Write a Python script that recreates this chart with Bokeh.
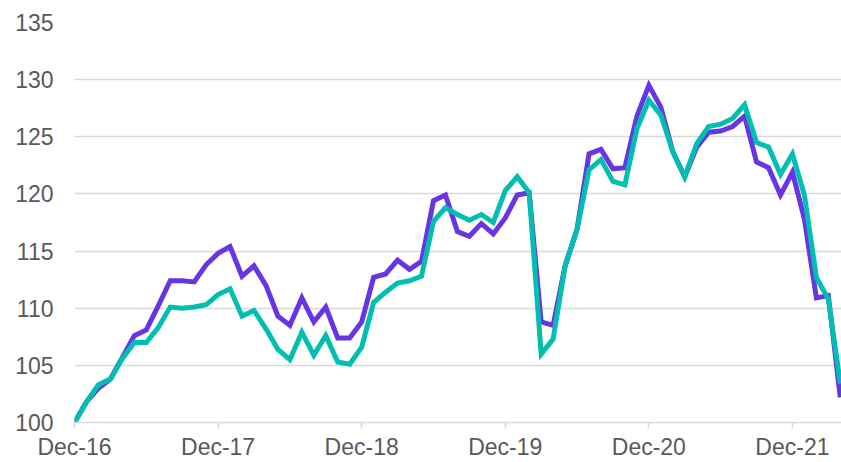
from bokeh.plotting import figure
from bokeh.models import Range1d, FixedTicker
from bokeh.embed import file_html
from bokeh.resources import INLINE

# Monthly index values, Dec-16 .. Apr-22
months = list(range(65))
tick_positions = [0, 12, 24, 36, 48, 60]
tick_labels = ["Dec-16", "Dec-17", "Dec-18", "Dec-19", "Dec-20", "Dec-21"]
y_ticks = [100, 105, 110, 115, 120, 125, 130, 135]

purple_series = [
    100.0, 101.8, 103.0, 103.8, 105.7, 107.6, 108.1, 110.2, 112.4, 112.4, 112.3, 113.8,
    114.8, 115.4, 112.8, 113.7, 112.0, 109.3, 108.5, 110.9, 108.8, 110.1, 107.4, 107.4,
    108.8, 112.7, 113.0, 114.2, 113.4, 114.1, 119.4, 119.9, 116.7, 116.3, 117.4, 116.5,
    117.9, 119.9, 120.1, 108.8, 108.5, 113.7, 116.9, 123.5, 123.9, 122.2, 122.3, 126.8,
    129.5, 127.6, 123.7, 121.5, 124.1, 125.4, 125.5, 125.9, 126.8, 122.8, 122.3, 119.9,
    121.9, 117.8, 110.9, 111.1, 102.2,
]
teal_series = [
    100.0, 101.8, 103.3, 103.8, 105.6, 107.0, 107.0, 108.3, 110.1, 110.0, 110.1, 110.3,
    111.2, 111.7, 109.3, 109.8, 108.2, 106.4, 105.5, 107.9, 105.9, 107.6, 105.3, 105.1,
    106.6, 110.5, 111.4, 112.2, 112.4, 112.8, 117.6, 118.8, 118.2, 117.7, 118.2, 117.5,
    120.3, 121.5, 120.1, 106.0, 107.3, 113.7, 116.9, 122.1, 123.0, 121.1, 120.8, 125.7,
    128.2, 126.9, 123.7, 121.5, 124.4, 125.9, 126.1, 126.6, 127.8, 124.5, 124.1, 121.7,
    123.5, 119.9, 112.7, 110.8, 103.4,
]

p = figure(
    width=841, height=462, output_backend="svg", toolbar_location=None,
    x_range=Range1d(0, 64.1), y_range=Range1d(100, 135),
    min_border_left=74, min_border_right=0, min_border_top=22, min_border_bottom=38,
)
p.outline_line_color = None
p.background_fill_color = "white"
p.border_fill_color = "white"

p.line(months, purple_series, line_color="#6735e3", line_width=5, line_join="miter")
p.line(months, teal_series, line_color="#00bfb2", line_width=5, line_join="miter")

p.xgrid.grid_line_color = None
p.ygrid.grid_line_color = "#d9d9d9"
p.ygrid.grid_line_width = 1.5
p.ygrid.ticker = FixedTicker(ticks=y_ticks)

p.yaxis.ticker = FixedTicker(ticks=y_ticks)
p.yaxis.axis_line_color = None
p.yaxis.major_tick_line_color = None
p.yaxis.major_tick_out = 0
p.yaxis.major_tick_in = 0
p.yaxis.minor_tick_line_color = None
p.yaxis.major_label_standoff = 21
p.yaxis.major_label_text_font = "Liberation Sans"
p.yaxis.major_label_text_font_size = "23px"
p.yaxis.major_label_text_color = "#595959"

p.xaxis.ticker = FixedTicker(ticks=tick_positions)
p.xaxis.major_label_overrides = {t: l for t, l in zip(tick_positions, tick_labels)}
p.xaxis.axis_line_color = "#d9d9d9"
p.xaxis.axis_line_width = 1.5
p.xaxis.major_tick_line_color = "#d9d9d9"
p.xaxis.major_tick_line_width = 1.5
p.xaxis.major_tick_in = 0
p.xaxis.major_tick_out = 6
p.xaxis.minor_tick_line_color = None
p.xaxis.major_label_standoff = 5
p.xaxis.major_label_text_font = "Liberation Sans"
p.xaxis.major_label_text_font_size = "23px"
p.xaxis.major_label_text_color = "#595959"

open("out.html", "w").write(file_html(p, INLINE))
